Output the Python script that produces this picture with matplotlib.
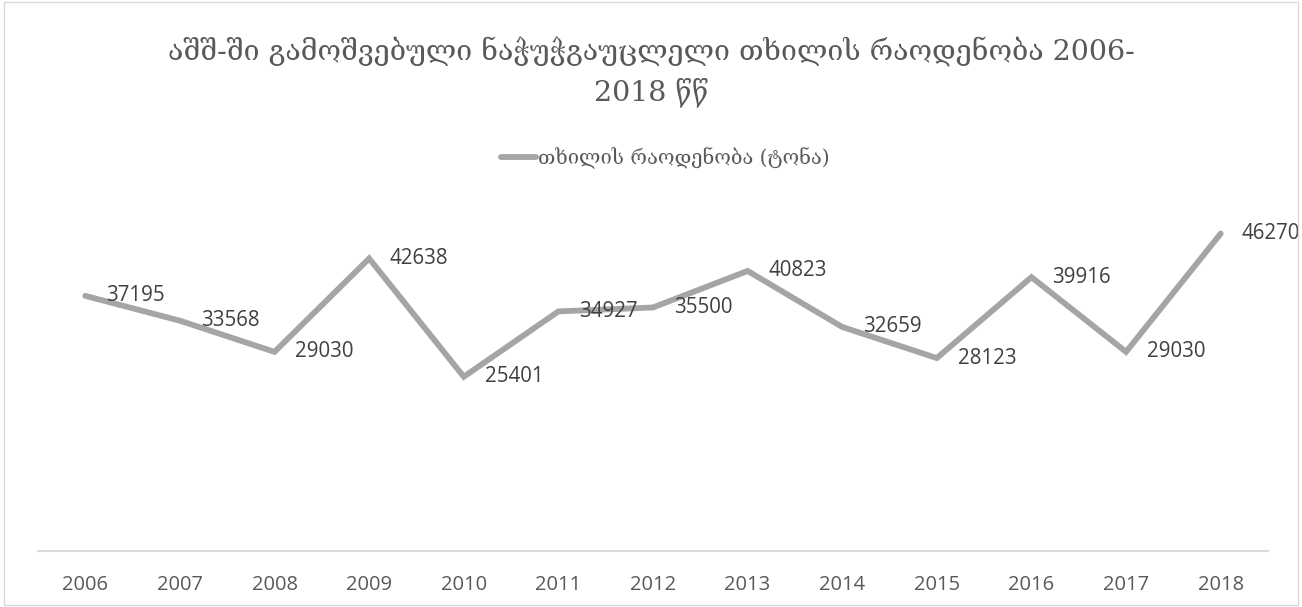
import matplotlib
matplotlib.use("Agg")
import matplotlib.pyplot as plt
from matplotlib.patches import Rectangle

years = ["2006", "2007", "2008", "2009", "2010", "2011", "2012",
         "2013", "2014", "2015", "2016", "2017", "2018"]
values = [37195, 33568, 29030, 42638, 25401, 34927, 35500,
          40823, 32659, 28123, 39916, 29030, 46270]
title_text = "აშშ-ში გამოშვებული ნაჭუჭგაუცლელი თხილის რაოდენობა 2006-\n2018 წწ"
series_name = "თხილის რაოდენობა (ტონა)"

W, H = 1302, 607
fig = plt.figure(figsize=(W / 100, H / 100), dpi=100)
ax = fig.add_axes([38 / W, 1 - 551 / H, (1268 - 38) / W, (551 - 208) / H])

x = list(range(len(years)))
line, = ax.plot(x, values, color="#A5A5A5", linewidth=4.2, solid_joinstyle="miter",
                solid_capstyle="round", label=series_name)

num_font = ["Open Sans", "DejaVu Sans"]
for xi, v in zip(x, values):
    ax.annotate(str(v), (xi, v), xytext=(15, 0), textcoords="offset points",
                ha="left", va="center", fontsize=14.8, color="#404040", family=num_font)

ax.set_xlim(-0.5, len(years) - 0.5)
ax.set_ylim(0, 50000)
ax.set_xticks(x)
ax.set_xticklabels(years, family=num_font, fontsize=14.5, color="#595959")
ax.tick_params(axis="x", length=0, pad=17)
ax.set_yticks([])
for s in ["top", "left", "right"]:
    ax.spines[s].set_visible(False)
ax.spines["bottom"].set_color("#D9D9D9")
ax.spines["bottom"].set_linewidth(1.5)

fig.text(0.5, 1 - 72 / H, title_text, ha="center", va="center", fontsize=20.5,
         color="#595959", family=["DejaVu Serif", "DejaVu Sans"], linespacing=1.45)

leg = fig.legend(handles=[line], loc="center", bbox_to_anchor=(0.511, 1 - 158 / H),
                 frameon=False, handlelength=1.7, handletextpad=0.1,
                 prop={"family": ["DejaVu Serif", "DejaVu Sans"], "size": 14.5})
for t in leg.get_texts():
    t.set_color("#595959")

fig.patches.append(Rectangle((4 / W, 2 / H), 1 - 8 / W, 1 - 4 / H, transform=fig.transFigure,
                             fill=False, edgecolor="#D9D9D9", linewidth=1))

fig.savefig("out.png", dpi=100, facecolor="white")
